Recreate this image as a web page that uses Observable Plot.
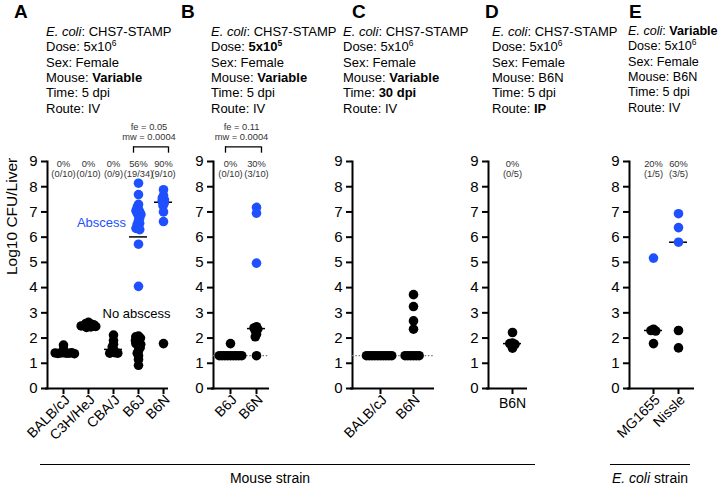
<!DOCTYPE html>
<html><head><meta charset="utf-8">
<script src="https://cdn.jsdelivr.net/npm/d3@7"></script>
<script src="https://cdn.jsdelivr.net/npm/@observablehq/plot@0.6"></script>
<style>
body{margin:0;background:#fff;font-family:Arial,"Liberation Sans",Helvetica,sans-serif;color:#000;}
#fig{position:relative;width:720px;height:487px;overflow:hidden;background:#fff;}
.abs{position:absolute;}
.letter{font-weight:bold;font-size:19px;line-height:19px;}
.hdr{font-size:13px;line-height:15.4px;white-space:nowrap;}
.hdr sup{font-size:8.5px;line-height:0;vertical-align:5px;}
.group{font-size:14px;line-height:12px;white-space:nowrap;transform:translateX(-50%);}
.rule{height:0;border-top:1.4px solid #000;}
</style></head><body><div id="fig"></div><script>
const BLUE = "#1f50ff";
const yTicks = [0,1,2,3,4,5,6,7,8,9];
const yLabel = "Log10 CFU/Liver";

// ---------- Panel A ----------
const catsA = ["BALB/cJ","C3H/HeJ","CBA/J","B6J","B6N"];
const abscessA = [[],[],[],
  [8.14,7.69,7.3,7.2,7.1,7.05,7.0,6.95,6.9,6.85,6.75,6.65,6.55,6.5,6.4,6.35,6.3,5.72,4.05],
  [7.88,7.65,7.55,7.48,7.42,7.35,7.25,7.0,6.62]];
const noAbscessA = [
  [1.72,1.55,1.42,1.41,1.40,1.40,1.39,1.41,1.42,1.38],
  [2.62,2.58,2.56,2.53,2.5,2.5,2.48,2.46,2.44,2.42],
  [2.12,1.9,1.75,1.65,1.55,1.45,1.42,1.40,1.40],
  [2.08,2.05,2.0,1.95,1.9,1.82,1.78,1.75,1.7,1.62,1.5,1.4,1.3,1.15,0.92],
  [1.78]];
const pctA = ["0%","0%","0%","56%","90%"];
const fracA = ["(0/10)","(0/10)","(0/9)","(19/34)","(9/10)"];
const sigA = {from:"B6J", to:"B6N", fe:"fe = 0.05", mw:"mw = 0.0004"};
const headerA = ["<i>E. coli</i>: CHS7-STAMP","Dose: 5x10<sup>6</sup>","Sex: Female","Mouse: <b>Variable</b>","Time: 5 dpi","Route: IV"];
const groupTextA = ["Abscess","No abscess"];
const groupAtA = ["CBA/J","B6J"];
const groupYA = [6.57,2.96];

// ---------- Panel B ----------
const catsB = ["B6J","B6N"];
const abscessB = [[],[7.18,6.95,4.97]];
const noAbscessB = [[1.78,1.3,1.3,1.3,1.3,1.3,1.3,1.3,1.3,1.3],[2.45,2.4,2.35,2.3,2.15,2.05,1.3]];
const pctB = ["0%","30%"];
const fracB = ["(0/10)","(3/10)"];
const sigB = {from:"B6J", to:"B6N", fe:"fe = 0.11", mw:"mw = 0.0004"};
const lodB = 1.3;
const headerB = ["<i>E. coli</i>: CHS7-STAMP","Dose: <b>5x10<sup>5</sup></b>","Sex: Female","Mouse: <b>Variable</b>","Time: 5 dpi","Route: IV"];

// ---------- Panel C ----------
const catsC = ["BALB/cJ","B6N"];
const abscessC = [[],[]];
const noAbscessC = [[1.3,1.3,1.3,1.3,1.3,1.3,1.3,1.3,1.3,1.3],[3.72,3.25,2.68,2.35,1.3,1.3,1.3,1.3,1.3,1.3]];
const lodC = 1.3;
const headerC = ["<i>E. coli</i>: CHS7-STAMP","Dose: 5x10<sup>6</sup>","Sex: Female","Mouse: <b>Variable</b>","Time: <b>30 dpi</b>","Route: IV"];

// ---------- Panel D ----------
const catsD = ["B6N"];
const abscessD = [[]];
const noAbscessD = [[2.22,1.8,1.78,1.75,1.6]];
const pctD = ["0%"];
const fracD = ["(0/5)"];
const headerD = ["<i>E. coli</i>: CHS7-STAMP","Dose: 5x10<sup>6</sup>","Sex: Female","Mouse: B6N","Time: 5 dpi","Route: <b>IP</b>"];

// ---------- Panel E ----------
const catsE = ["MG1655","Nissle"];
const abscessE = [[5.17],[6.93,6.38,5.8]];
const noAbscessE = [[2.35,2.3,2.28,1.78],[2.3,1.61]];
const pctE = ["20%","60%"];
const fracE = ["(1/5)","(3/5)"];
const headerE = ["<i>E. coli</i>: <b>Variable</b>","Dose: 5x10<sup>6</sup>","Sex: Female","Mouse: B6N","Time: 5 dpi","Route: IV"];

const panels = [
  {key:"A", cats:catsA, abscess:abscessA, none:noAbscessA, pct:pctA, frac:fracA, sig:sigA, lod:null, header:headerA,
   L:{r0:47, r1:168, first:63, step:25, letterX:14, headerX:46, hdrSize:13, rotate:true, ylab:true}},
  {key:"B", cats:catsB, abscess:abscessB, none:noAbscessB, pct:pctB, frac:fracB, sig:sigB, lod:lodB, header:headerB,
   L:{r0:213, r1:269, first:230, step:26, letterX:181, headerX:211, hdrSize:13, rotate:true}},
  {key:"C", cats:catsC, abscess:abscessC, none:noAbscessC, pct:null, frac:null, sig:null, lod:lodC, header:headerC,
   L:{r0:352, r1:434, first:380, step:33, letterX:352, headerX:343, hdrSize:13, rotate:true}},
  {key:"D", cats:catsD, abscess:abscessD, none:noAbscessD, pct:pctD, frac:fracD, sig:null, lod:null, header:headerD,
   L:{r0:488, r1:527, first:512, step:20, letterX:485, headerX:492, hdrSize:13, rotate:false}},
  {key:"E", cats:catsE, abscess:abscessE, none:noAbscessE, pct:pctE, frac:fracE, sig:null, lod:null, header:headerE,
   L:{r0:629, r1:694, first:653, step:25, letterX:629, headerX:628, hdrSize:12.6, rotate:true}}
];

const fig = document.getElementById("fig");
const BW = 10;
function bandOpts(L, n) {
  const s = L.step, pi = 1 - BW / s, R = L.r1 - L.r0;
  const lo = R - s * (n - pi);
  const gap = L.first - BW / 2 - L.r0;
  return {type:"band", paddingInner: pi, paddingOuter: lo / (2 * s), align: lo > 0 ? gap / lo : 0.5, round:false};
}
function place(svg, left) {
  svg.style.position = "absolute";
  svg.style.left = left + "px";
  svg.style.top = "0px";
  svg.style.background = "transparent";
  svg.style.overflow = "visible";
  svg.style.maxWidth = "none";
  svg.style.fontFamily = 'Arial, "Liberation Sans", Helvetica, sans-serif';
  fig.appendChild(svg);
}

for (const p of panels) {
  const L = p.L, n = p.cats.length;
  const left = L.r0 - 47;
  const W = L.r1 - L.r0 + 47 + 25;
  const band = bandOpts(L, n);
  const common = {width: W, height: 487, marginLeft: 47, marginRight: 25, marginTop: 161, marginBottom: 99};
  const rows = [];
  p.cats.forEach((c, i) => {
    p.none[i].forEach(v => rows.push({cat: c, v, status: "No abscess"}));
    p.abscess[i].forEach(v => rows.push({cat: c, v, status: "Abscess"}));
  });

  const marks = [
    Plot.ruleY([0], {strokeWidth: 2, insetLeft: -2}),
    Plot.frame({anchor: "left", strokeWidth: 2}),
    Plot.axisY({ticks: yTicks, tickSize: 6, tickPadding: 4, fontSize: 15, strokeWidth: 2, label: null, tickFormat: d => String(d)}),
    Plot.axisX({tickSize: 6, strokeWidth: 2, tickFormat: () => "", label: null}),
    Plot.text(p.cats, L.rotate
      ? {x: d => d, frameAnchor: "bottom", rotate: -45, textAnchor: "end", lineAnchor: "middle", dx: 4, dy: 9, fontSize: 14}
      : {x: d => d, frameAnchor: "bottom", lineAnchor: "top", dy: 10, fontSize: 14})
  ];
  if (p.lod != null) marks.push(Plot.ruleY([p.lod], {stroke: "#777", strokeWidth: 1.2, strokeDasharray: "1.5,1.8"}));
  if (p.pct) {
    marks.push(Plot.text(p.cats, {x: d => d, y: 8.92, text: (d, i) => p.pct[i], fontSize: 9.3, fill: "#333"}));
    marks.push(Plot.text(p.cats, {x: d => d, y: 8.52, text: (d, i) => p.frac[i], fontSize: 9.3, fill: "#333"}));
  }
  if (p.sig) {
    marks.push(Plot.ruleY([p.sig], {x1: "from", x2: "to", y: 9.58, strokeWidth: 1.3}));
    marks.push(Plot.ruleX([p.sig], {x: "from", y1: 9.33, y2: 9.58, dx: -BW / 2, strokeWidth: 1.3}));
    marks.push(Plot.ruleX([p.sig], {x: "to", y1: 9.33, y2: 9.58, dx: BW / 2, strokeWidth: 1.3}));
    marks.push(Plot.text([p.sig], {x: "from", y: 10.36, text: "fe", dx: L.step / 2 - 2, fontSize: 9.3, fill: "#333"}));
    marks.push(Plot.text([p.sig], {x: "from", y: 9.96, text: "mw", dx: L.step / 2 - 2, fontSize: 9.3, fill: "#333"}));
  }
  if (L.ylab) {
    marks.push(Plot.text([yLabel], {frameAnchor: "left", rotate: -90, dx: -35, fontSize: 15.5}));
    marks.push(Plot.text([groupTextA[0]], {x: () => groupAtA[0], y: groupYA[0], dx: -12, fontSize: 13, fill: BLUE}));
    marks.push(Plot.text([groupTextA[1]], {x: () => groupAtA[1], y: groupYA[1], dx: -2, fontSize: 13, fill: "#000"}));
  }

  const base = Plot.plot({
    ...common,
    x: {...band, domain: p.cats},
    y: {domain: [0, 9]},
    marks
  });
  place(base, left);

  const dots = Plot.plot({
    ...common,
    facet: {data: rows, x: "cat"},
    fx: {...band, domain: p.cats, axis: null, label: null},
    y: {domain: [0, 9], axis: null},
    color: {domain: ["Abscess", "No abscess"], range: [BLUE, "#000"]},
    marks: [
      Plot.tickY(rows, Plot.groupZ({y: "median"}, {y: "v", stroke: "#000", strokeWidth: 1.5, insetLeft: -4, insetRight: -4})),
      Plot.dot(rows, Plot.dodgeX({anchor: "middle", r: 1.4, padding: 0}, {y: "v", fill: "status", r: 4.8}))
    ]
  });
  place(dots, left);

  const letter = document.createElement("div");
  letter.className = "abs letter";
  letter.style.left = L.letterX + "px";
  letter.style.top = "1.5px";
  letter.textContent = p.key;
  fig.appendChild(letter);

  const hdr = document.createElement("div");
  hdr.className = "abs hdr";
  hdr.style.left = L.headerX + "px";
  hdr.style.top = "23.8px";
  hdr.style.fontSize = L.hdrSize + "px";
  hdr.innerHTML = p.header.join("<br>");
  fig.appendChild(hdr);
}

// group labels beneath the panels
const groupLabels = ["Mouse strain", "<i>E. coli</i> strain"];
const groupLines = [[40, 535, 270], [610, 690, 650]];
groupLabels.forEach((t, i) => {
  const [x1, x2, cx] = groupLines[i];
  const line = document.createElement("div");
  line.className = "abs rule";
  line.style.left = x1 + "px";
  line.style.width = (x2 - x1) + "px";
  line.style.top = "464.3px";
  fig.appendChild(line);
  const lab = document.createElement("div");
  lab.className = "abs group";
  lab.style.left = cx + "px";
  lab.style.top = "472.4px";
  lab.innerHTML = t;
  fig.appendChild(lab);
});
</script></body></html>
